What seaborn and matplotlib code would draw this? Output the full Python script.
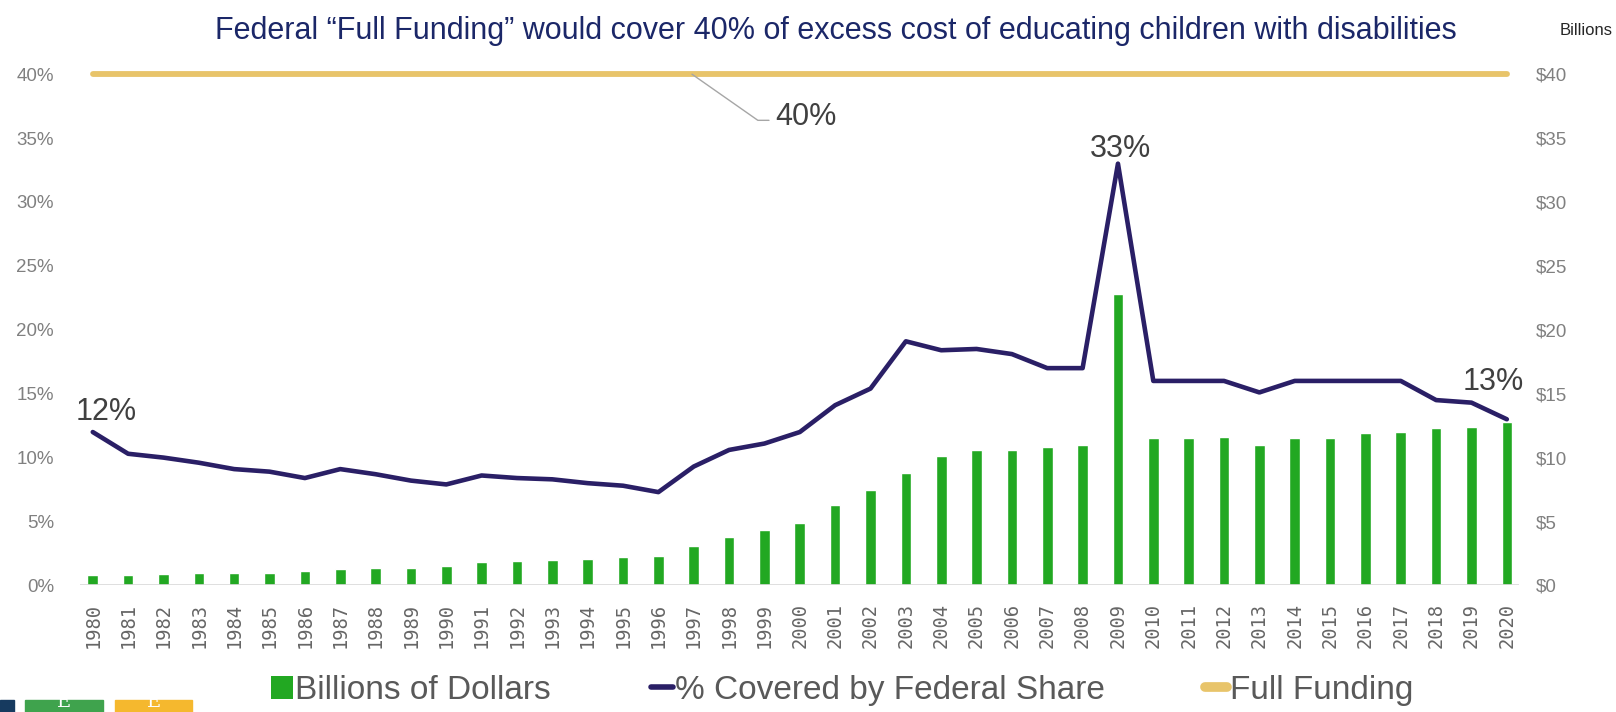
import numpy as np
import pandas as pd
import matplotlib
matplotlib.use("Agg")
import matplotlib.pyplot as plt
from matplotlib.patches import Patch, Rectangle
from matplotlib.lines import Line2D
import seaborn as sns

# ---- data -------------------------------------------------------------
years = list(range(1980, 2021))
billions = [0.8, 0.8, 0.9, 1.0, 1.0, 1.0, 1.1, 1.3, 1.4, 1.4,
            1.5, 1.8, 1.9, 2.0, 2.1, 2.2, 2.3, 3.1, 3.8, 4.3,
            4.9, 6.3, 7.5, 8.8, 10.1, 10.6, 10.6, 10.8, 11.0, 22.8,
            11.5, 11.5, 11.6, 11.0, 11.5, 11.5, 11.9, 12.0, 12.3, 12.4,
            12.8]
pct_covered = [12.0, 10.3, 10.0, 9.6, 9.1, 8.9, 8.4, 9.1, 8.7, 8.2,
               7.9, 8.6, 8.4, 8.3, 8.0, 7.8, 7.3, 9.3, 10.6, 11.1,
               12.0, 14.1, 15.4, 19.1, 18.4, 18.5, 18.1, 17.0, 17.0, 33.0,
               16.0, 16.0, 16.0, 15.1, 16.0, 16.0, 16.0, 16.0, 14.5, 14.3,
               13.0]
full_funding = [40.0] * len(years)
labelled_years = [1980, 2009, 2020]

title = "Federal \u201cFull Funding\u201d would cover 40% of excess cost of educating children with disabilities"
legend_labels = ["Billions of Dollars", "% Covered by Federal Share", "Full Funding"]

# ---- style ------------------------------------------------------------
GREEN = "#22a822"
NAVY = "#2a1f66"
GOLD = "#e8c46a"
GREY_TXT = "#808080"
LABEL_TXT = "#404040"

sns.set_theme(style="white")
plt.rcParams["font.family"] = ["Liberation Sans", "DejaVu Sans"]

df = pd.DataFrame({"year": [str(y) for y in years],
                   "pos": np.arange(len(years)),
                   "billions": billions,
                   "pct": pct_covered,
                   "full": full_funding})

fig = plt.figure(figsize=(16.16, 7.12), dpi=100)
fig.patch.set_facecolor("white")
ax = fig.add_axes([80.4 / 1616, 1 - 585.4 / 712, (1519.2 - 80.4) / 1616, (585.4 - 74.2) / 712])
ax2 = ax.twinx()

# bars (billions, right axis) drawn behind the percentage lines
sns.barplot(data=df, x="pos", y="billions", color=GREEN, saturation=1,
            width=0.3, ax=ax2, native_scale=True)
ax.set_zorder(ax2.get_zorder() + 1)
ax.patch.set_visible(False)

sns.lineplot(data=df, x="pos", y="full", color=GOLD, lw=4.2, ax=ax,
             solid_capstyle="round")
sns.lineplot(data=df, x="pos", y="pct", color=NAVY, lw=3.3, ax=ax,
             solid_joinstyle="round")
for l in ax.lines:
    l.set_clip_on(False)

for a in (ax, ax2):
    a.set_ylim(0, 40)
    a.set_xlim(-0.35, len(years) - 1 + 0.35)
    a.set_xlabel("")
    a.set_ylabel("")
    for s in a.spines.values():
        s.set_visible(False)

ax.axhline(0, color="#d9d9d9", lw=1.2, zorder=0)

ticks = np.arange(0, 41, 5)
ax.set_yticks(ticks)
ax.set_yticklabels([f"{t}%" for t in ticks], color=GREY_TXT, fontsize=13.5)
ax2.set_yticks(ticks)
ax2.set_yticklabels([f"${t}" for t in ticks], color=GREY_TXT, fontsize=13.5)
ax.tick_params(axis="y", length=0, pad=19)
ax2.tick_params(axis="y", length=0, pad=12)

ax.set_xticks(df["pos"])
ax.set_xticklabels(df["year"], rotation=90, color="#666666",
                   fontsize=13.5, family="DejaVu Sans Mono")
ax.tick_params(axis="x", length=0, pad=13)

# value labels
for yr, dy, dx in zip(labelled_years, [8.6, 5, 21], [9.5, 2, -10]):
    i = years.index(yr)
    v = pct_covered[i]
    ax.annotate(f"{v:.0f}%", (i, v), xytext=(dx, dy), textcoords="offset points",
                ha="center", va="baseline", fontsize=22, color=LABEL_TXT)

# call-out for the full-funding line
ax.annotate(f"{full_funding[0]:.0f}%", xy=(16.95, full_funding[0]),
            xytext=(19.3, 36.0), ha="left", va="baseline", fontsize=22,
            color=LABEL_TXT,
            arrowprops=dict(arrowstyle="-", color="#a6a6a6", lw=1,
                            connectionstyle="angle,angleA=0,angleB=-35,rad=0",
                            relpos=(0, 0.4), shrinkA=2, shrinkB=0))

fig.text(0.517, 0.956, title, ha="center", va="center", fontsize=22,
         color="#1b2768")
fig.text(0.998, 0.957, "Billions", ha="right", va="center", fontsize=12,
         color="#262626")

handles = [Patch(facecolor=GREEN, edgecolor="none"),
           Line2D([], [], color=NAVY, lw=4),
           Line2D([], [], color=GOLD, lw=7, solid_capstyle="round")]
fig.legend(handles, legend_labels, loc="center", bbox_to_anchor=(0.521, 0.03),
           ncol=3, frameon=False, fontsize=24, handlelength=0.65,
           handletextpad=0.08, columnspacing=3.0, labelcolor="#595959")

# organisation mark in the lower-left corner
for x0, w, c, letter in [(0, 14, "#163a5f", None), (25, 78, "#3fa34d", "E"),
                         (115, 77, "#f5b82e", "E")]:
    fig.patches.append(Rectangle((x0 / 1616, 0), w / 1616, 12.5 / 712,
                                 transform=fig.transFigure, color=c, zorder=5))
    if letter:
        fig.text((x0 + w / 2) / 1616, 1 / 712, letter, ha="center", va="bottom",
                 fontsize=14, color="white", family="DejaVu Serif", zorder=6)

fig.savefig("out.png", dpi=100, facecolor="white")
